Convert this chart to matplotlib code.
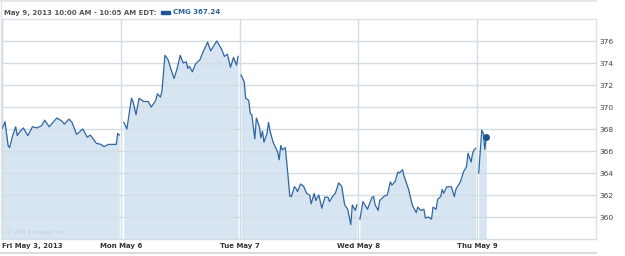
import matplotlib
matplotlib.use("Agg")
import matplotlib.pyplot as plt
from matplotlib.lines import Line2D
from matplotlib.patches import Rectangle

# ---- data (minutes after 9:30 open, price) ----
day_labels = ["Fri May 3, 2013", "Mon May 6", "Tue May 7", "Wed May 8", "Thu May 9"]

fri_min = [0, 10, 20, 25, 35, 45, 50, 60, 70, 85, 100, 115, 130, 140, 155, 180, 195, 205,
           220, 230, 245, 265, 280, 290, 310, 325, 335, 350, 375, 380, 385]
fri_px = [368.0, 368.66, 366.5, 366.3, 367.4, 368.2, 367.4, 367.8, 368.1, 367.4, 368.2, 368.1,
          368.3, 368.8, 368.2, 369.0, 368.75, 368.45, 368.9, 368.6, 367.5, 368.0, 367.25,
          367.45, 366.7, 366.6, 366.4, 366.6, 366.6, 367.6, 367.45]

mon_min = [10, 20, 35, 40, 50, 60, 75, 90, 100, 115, 120, 130, 135, 145, 155, 165, 175, 185,
           195, 205, 215, 220, 225, 235, 245, 260, 270, 285, 295, 315, 330, 340, 350, 360,
           370, 380, 385]
mon_px = [368.6, 368.0, 370.8, 370.5, 369.3, 370.8, 370.5, 370.5, 370.0, 370.6, 371.2, 370.9,
          371.4, 374.7, 374.3, 373.4, 372.6, 373.5, 374.7, 374.0, 374.1, 373.5, 373.7, 373.2,
          373.9, 374.3, 375.0, 375.9, 375.1, 376.0, 375.3, 374.6, 374.8, 373.6, 374.5, 373.8,
          374.6]

tue_min = [5, 15, 20, 30, 35, 40, 50, 55, 65, 70, 75, 80, 90, 95, 100, 110, 125, 130, 135,
           140, 150, 155, 165, 170, 180, 185, 190, 200, 210, 220, 230, 235, 245, 250, 260,
           270, 280, 290, 295, 305, 315, 325, 335, 345, 355, 365, 370, 380, 385]
tue_px = [372.9, 372.3, 370.8, 370.6, 369.4, 369.3, 367.1, 369.0, 368.2, 367.2, 367.8, 366.8,
          367.6, 368.6, 367.8, 366.8, 365.9, 365.2, 366.5, 366.1, 366.3, 364.9, 361.9, 361.85,
          362.75, 362.6, 362.3, 363.0, 362.8, 362.15, 362.0, 361.2, 362.15, 361.5, 362.0,
          360.8, 361.8, 361.8, 361.4, 361.85, 362.2, 363.1, 362.8, 361.1, 360.7, 359.3, 361.1,
          360.6, 361.1]

wed_min = [5, 15, 30, 35, 45, 50, 55, 65, 70, 85, 95, 105, 110, 120, 130, 135, 145, 150, 160,
           165, 175, 180, 190, 195, 205, 215, 220, 230, 240, 245, 255, 260, 270, 275, 280,
           290, 295, 305, 315, 320, 325, 335, 345, 355, 360, 370, 375, 380, 385]
wed_px = [359.8, 361.4, 360.7, 361.1, 361.8, 361.85, 361.1, 360.6, 361.5, 361.9, 362.0, 363.2,
          362.9, 363.2, 364.1, 364.0, 364.3, 363.7, 362.9, 362.5, 361.3, 360.9, 360.4, 360.9,
          360.6, 360.7, 359.9, 360.0, 359.8, 360.9, 360.7, 361.6, 361.85, 362.5, 362.15,
          362.75, 362.75, 362.75, 361.85, 362.5, 362.75, 363.2, 364.1, 364.6, 365.8, 365.0,
          365.8, 366.1, 366.25]

thu_min = [5, 15, 20, 25, 30]
thu_px = [364.0, 367.9, 367.6, 366.15, 367.24]

y_ticks = [360, 362, 364, 366, 368, 370, 372, 374, 376]
header = "May 9, 2013 10:00 AM - 10:05 AM EDT:"
symbol_text = "CMG 367.24"

SESSION = 390.0
days = [(fri_min, fri_px), (mon_min, mon_px), (tue_min, tue_px), (wed_min, wed_px),
        (thu_min, thu_px)]

LINE = "#2f65a0"
FILL = "#d6e5f1"
GRID = "#d3dbe3"
TXT = "#444444"

fig = plt.figure(figsize=(6.25, 2.56), dpi=100)
ax = fig.add_axes([2 / 625, 17 / 256, 594 / 625, 220 / 256])

ymin, ymax = 358, 378
for i, (mins, px) in enumerate(days):
    xs = [i + m / SESSION for m in mins]
    ax.fill_between(xs, px, ymin, color=FILL, lw=0, zorder=1)
    ax.plot(xs, px, color=LINE, lw=0.9, zorder=3)

# last point marker
last_x = len(days) - 1 + thu_min[-1] / SESSION
ax.plot([last_x], [thu_px[-1]], "o", color="#1d5592", ms=4, zorder=4)

ax.set_xlim(0, 5)
ax.set_ylim(ymin, ymax)
ax.set_yticks(y_ticks)
ax.set_yticklabels([str(v) for v in y_ticks])
ax.yaxis.tick_right()
ax.set_xticks(range(len(day_labels)))
ax.set_xticklabels(day_labels)
for i, lab in enumerate(ax.get_xticklabels()):
    if i == 0:
        lab.set_ha("left")
ax.tick_params(axis="both", length=0, colors=TXT)
ax.tick_params(axis="x", labelsize=5.0, pad=3)
ax.tick_params(axis="y", labelsize=5.4, pad=2.5)
for lab in ax.get_xticklabels():
    lab.set_fontweight("bold")
    lab.set_color("#333333")

ax.set_axisbelow(False)
ax.grid(True, color=GRID, lw=1.0, zorder=2)
for sp in ax.spines.values():
    sp.set_color("#dce3ea")
    sp.set_linewidth(1.0)
ax.spines["bottom"].set_color("#d3dbe3")

ax.text(0.006, 0.025, "\u00a9 2013 Yahoo! Inc.", transform=ax.transAxes, fontsize=4.6,
        color="#c2ccd6", zorder=5)

# header
fig.text(4 / 625, 1 - 12.5 / 256, header, fontsize=5.05, fontweight="bold", color="#555555",
         va="center", ha="left")
fig.patches.append(Rectangle((161 / 625, 1 - 14 / 256), 9 / 625, 3 / 256,
                             transform=fig.transFigure, color="#1d5592", figure=fig))
fig.text(173 / 625, 1 - 12.5 / 256, symbol_text, fontsize=5.05, fontweight="bold",
         color="#2a5f9a", va="center", ha="left")

# outer frame lines
fig.add_artist(Line2D([0, 596 / 625], [1 - 1 / 256, 1 - 1 / 256], transform=fig.transFigure,
                      color="#dde3e9", lw=1.2))
fig.add_artist(Line2D([1 / 625, 1 / 625], [1 - 1 / 256, 17 / 256], transform=fig.transFigure,
                      color="#dde3e9", lw=1.0))
fig.add_artist(Line2D([0, 596 / 625], [3 / 256, 3 / 256], transform=fig.transFigure,
                      color="#d8dde2", lw=1.5))

fig.savefig("out.png", dpi=100)
